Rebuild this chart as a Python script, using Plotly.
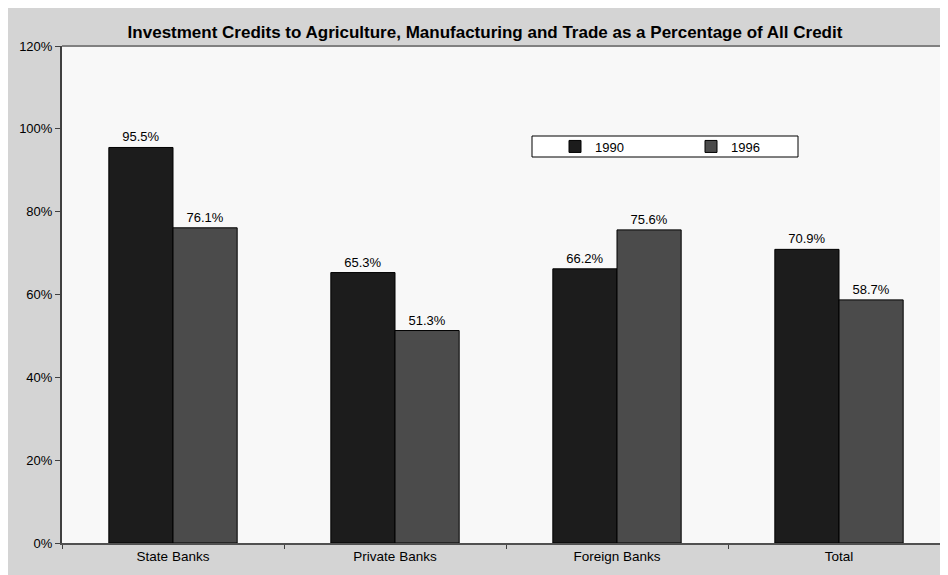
import plotly.graph_objects as go

categories = ["State Banks", "Private Banks", "Foreign Banks", "Total"]
values_1990 = [95.5, 65.3, 66.2, 70.9]
values_1996 = [76.1, 51.3, 75.6, 58.7]
series_names = ["1990", "1996"]
y_ticks = [0, 20, 40, 60, 80, 100, 120]
y_tick_labels = [f"{v}%" for v in y_ticks]
title_text = "Investment Credits to Agriculture, Manufacturing and Trade as a Percentage of All Credit"

W, H = 948, 575
L, R, T, B = 54, 6, 38, 40
pw, ph = W - L - R, H - T - B

def px_x(x):
    return (x - L) / pw

def px_y(y):
    return (H - B - y) / ph

FONT = "Liberation Sans, Arial, sans-serif"

fig = go.Figure()
for name, vals, col in [(series_names[0], values_1990, "#1c1c1c"),
                        (series_names[1], values_1996, "#4b4b4b")]:
    fig.add_trace(go.Bar(
        name=name, x=categories, y=vals,
        marker=dict(color=col, line=dict(color="#000000", width=1)),
        text=[f"{v:.1f}%" for v in vals], textposition="outside",
        textfont=dict(family=FONT, size=13, color="#000000"),
        cliponaxis=False,
    ))

shapes = [
    # legend box
    dict(type="rect", xref="paper", yref="paper", x0=px_x(524), x1=px_x(790), y0=px_y(149), y1=px_y(128),
         fillcolor="#ffffff", line=dict(color="#000000", width=1), layer="below"),
    # top border line of plot area
    dict(type="line", xref="paper", yref="paper", x0=0, x1=1, y0=1, y1=1,
         line=dict(color="#808080", width=2)),
]

fig.update_layout(
    width=W, height=H,
    margin=dict(l=L, r=R, t=T, b=B, autoexpand=False),
    paper_bgcolor="#d4d4d4",
    plot_bgcolor="#f8f8f8",
    font=dict(family=FONT, size=13, color="#000000"),
    title=dict(text="<b>" + title_text + "</b>", xref="paper", x=px_x(477), xanchor="center",
               y=1 - 24 / H, yanchor="middle",
               font=dict(family=FONT, size=17, color="#000000")),
    barmode="group", bargap=0.422, bargroupgap=0,
    showlegend=True,
    legend=dict(orientation="h", x=px_x(547), y=px_y(138.5), xanchor="left", yanchor="middle",
                bgcolor="rgba(0,0,0,0)", borderwidth=0,
                entrywidth=91, entrywidthmode="pixels",
                font=dict(family=FONT, size=13, color="#000000"),
                itemwidth=30),
    shapes=shapes,
    xaxis=dict(showline=True, linecolor="#505050", linewidth=2, mirror=False,
               ticks="outside", ticklen=4, tickcolor="#404040", tickson="boundaries",
               tickfont=dict(family=FONT, size=13.5, color="#000000"), showgrid=False,
               fixedrange=True),
    yaxis=dict(range=[0, 120], tickvals=y_ticks, ticktext=y_tick_labels,
               showline=True, linecolor="#404040", linewidth=2, mirror=False,
               ticks="outside", ticklen=5, tickcolor="#404040",
               tickfont=dict(family=FONT, size=13, color="#000000"),
               showgrid=False, zeroline=False, fixedrange=True),
)

fig.write_html("out.html")
